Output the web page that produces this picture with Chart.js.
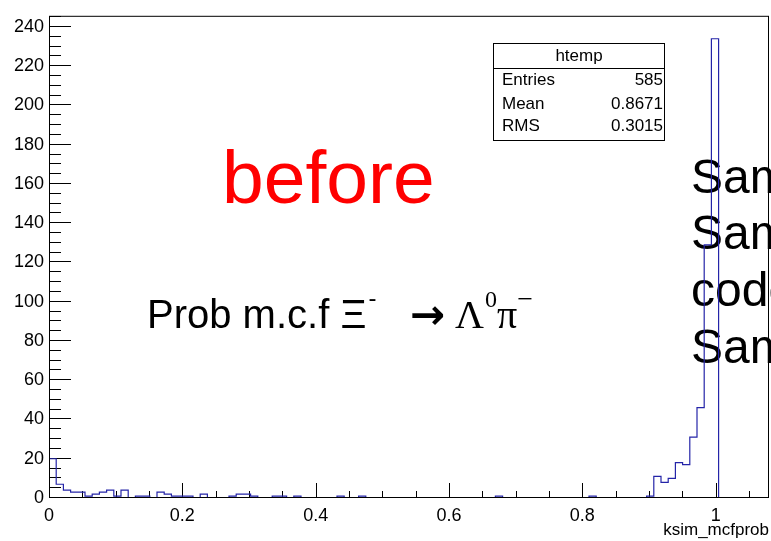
<!DOCTYPE html>
<html>
<head>
<meta charset="utf-8">
<script src="https://cdn.jsdelivr.net/npm/chart.js@4/dist/chart.umd.min.js"></script>
<style>
html, body { margin: 0; padding: 0; background: #fff; }
#wrap { width: 771px; height: 541px; position: relative; }
</style>
</head>
<body>
<div id="wrap"><canvas id="histChart"></canvas></div>
<script>
// ksim_mcfprob, 100 bins between 0 and 1.08
let xMin = 0;
let xMax = 1.08;
let binCounts = [
	20, 7, 4, 3, 3, 1, 2, 3, 4, 1,
	4, 0, 1, 1, 0, 3, 2, 1, 1, 1,
	0, 2, 0, 0, 0, 1, 2, 2, 1, 0,
	0, 1, 1, 0, 1, 0, 0, 0, 0, 0,
	1, 0, 0, 1, 0, 0, 0, 0, 0, 0,
	0, 0, 0, 0, 0, 0, 0, 0, 0, 0,
	0, 0, 1, 0, 0, 0, 0, 0, 0, 0,
	0, 0, 0, 0, 0, 1, 0, 0, 0, 0,
	0, 0, 0, 1, 11, 8, 10, 18, 17, 31,
	46, 129, 234, 0, 0, 0, 0, 0, 0, 0
];
let xTickValues = [0, 0.2, 0.4, 0.6, 0.8, 1];
let yTickValues = [0, 20, 40, 60, 80, 100, 120, 140, 160, 180, 200, 220, 240];
let statLabels = ['Entries', 'Mean', 'RMS'];
let statValues = ['585', '0.8671', '0.3015'];

let chart;

//points at the edges of each bin, the step is drawn towards the next edge
function buildPoints(){
	let w = (xMax - xMin) / binCounts.length;
	let pts = [{x: xMin, y: 0}];
	binCounts.forEach((c, i) => {
		pts.push({x: xMin + (i + 1) * w, y: c});
	});
	return pts;
}

//ROOT style frame, inward ticks, stats box, slide texts
const rootFrame = {
	id: 'rootFrame',
	beforeDatasetsDraw(c){
		let ctx = c.ctx;
		let a = c.chartArea;
		let xs = c.scales.x;
		let ys = c.scales.y;
		ctx.save();
		ctx.fillStyle = '#ff0000';
		ctx.font = '75px "Liberation Sans", Arial, sans-serif';
		ctx.fillText('before', 222, 203);

		ctx.fillStyle = '#000';
		let x = 147;
		ctx.font = '40px "Liberation Sans", Arial, sans-serif';
		ctx.fillText('Prob m.c.f \u039E', x, 328);
		x += ctx.measureText('Prob m.c.f \u039E').width + 2;
		ctx.font = '24px "Liberation Sans", Arial, sans-serif';
		ctx.fillText('-', x, 306);
		ctx.font = 'bold 42px "DejaVu Sans", sans-serif';
		ctx.fillText('\u2192', 410, 329);
		x = 455;
		ctx.font = '40px "Liberation Serif", "Times New Roman", serif';
		ctx.fillText('\u039B', x, 328);
		x += ctx.measureText('\u039B').width + 1;
		ctx.font = '24px "Liberation Serif", "Times New Roman", serif';
		ctx.fillText('0', x, 307);
		x += ctx.measureText('0').width;
		ctx.font = '40px "Liberation Serif", "Times New Roman", serif';
		ctx.fillText('\u03C0', x, 328);
		x += ctx.measureText('\u03C0').width;
		ctx.font = '28px "Liberation Serif", "Times New Roman", serif';
		ctx.fillText('\u2212', x, 308);

		ctx.font = '48px "Liberation Sans", Arial, sans-serif';
		ctx.fillText('Sam', 691, 193);
		ctx.fillText('Sam', 691, 249);
		ctx.fillText('code', 691, 306);
		ctx.fillText('Sam', 691, 363);

		ctx.strokeStyle = '#000';
		ctx.lineWidth = 1;
		ctx.beginPath();
		for(let i = 0; i <= 21; i++){
			let px = Math.round(xs.getPixelForValue(i * 0.05)) + 0.5;
			let len = (i % 4 == 0) ? 15 : 7;
			ctx.moveTo(px, a.bottom);
			ctx.lineTo(px, a.bottom - len);
		}
		for(let i = 0; i <= 49; i++){
			let py = Math.round(ys.getPixelForValue(i * 5)) - 0.5;
			let len = (i % 4 == 0) ? 22 : 12;
			ctx.moveTo(a.left, py);
			ctx.lineTo(a.left + len, py);
		}
		ctx.stroke();
		ctx.restore();
	},
	afterDatasetsDraw(c){
		let ctx = c.ctx;
		let a = c.chartArea;
		ctx.save();
		ctx.strokeStyle = '#000';
		ctx.lineWidth = 1;
		ctx.strokeRect(a.left + 0.5, a.top + 0.5, a.right - a.left - 1, a.bottom - a.top - 1);

		//stats box
		ctx.fillStyle = '#fff';
		ctx.fillRect(493.5, 43.5, 171, 97);
		ctx.strokeRect(493.5, 43.5, 171, 97);
		ctx.beginPath();
		ctx.moveTo(493.5, 68.5);
		ctx.lineTo(664.5, 68.5);
		ctx.stroke();
		ctx.fillStyle = '#000';
		ctx.font = '17px "Liberation Sans", Arial, sans-serif';
		ctx.textAlign = 'center';
		ctx.fillText('htemp', 579, 61);
		let rows = [85, 109, 131];
		statLabels.forEach((lab, i) => {
			ctx.textAlign = 'left';
			ctx.fillText(lab, 502, rows[i]);
			ctx.textAlign = 'right';
			ctx.fillText(statValues[i], 663, rows[i]);
		});
		ctx.restore();
	}
};

function configureChart(){
	let ctx = document.getElementById('histChart').getContext('2d');
	chart = new Chart(ctx, {
		type: 'line',
		data: {
			datasets: [{
				label: 'htemp',
				data: buildPoints(),
				stepped: 'after',
				borderColor: '#2424a8',
				borderWidth: 1.2,
				pointRadius: 0,
				fill: false
			}]
		},
		options: {
			responsive: true,
			maintainAspectRatio: false,
			animation: false,
			layout: { padding: { top: 11, right: 2, left: 0, bottom: 0 } },
			plugins: { legend: { display: false }, tooltip: { enabled: false } },
			scales: {
				x: {
					type: 'linear',
					min: xMin,
					max: xMax,
					grid: { display: false, drawTicks: false },
					border: { display: false },
					afterBuildTicks: s => { s.ticks = xTickValues.map(v => ({value: v})); },
					afterFit: s => { s.height = 43; },
					ticks: {
						padding: 7,
						color: '#000',
						font: { family: '"Liberation Sans", Arial, sans-serif', size: 18 },
						maxRotation: 0,
						callback: v => String(Math.round(v * 10) / 10)
					},
					title: {
						display: true,
						text: 'ksim_mcfprob',
						align: 'end',
						color: '#000',
						padding: { top: 0, bottom: 0 },
						font: { family: '"Liberation Sans", Arial, sans-serif', size: 17 }
					}
				},
				y: {
					min: 0,
					max: 1.05 * Math.max(...binCounts),
					grid: { display: false, drawTicks: false },
					border: { display: false },
					afterBuildTicks: s => { s.ticks = yTickValues.map(v => ({value: v})); },
					afterFit: s => { s.width = 49; },
					ticks: {
						padding: 5,
						color: '#000',
						font: { family: '"Liberation Sans", Arial, sans-serif', size: 18 }
					}
				}
			}
		},
		plugins: [rootFrame]
	});
}

window.onload = function(){
	configureChart();
}
</script>
</body>
</html>
